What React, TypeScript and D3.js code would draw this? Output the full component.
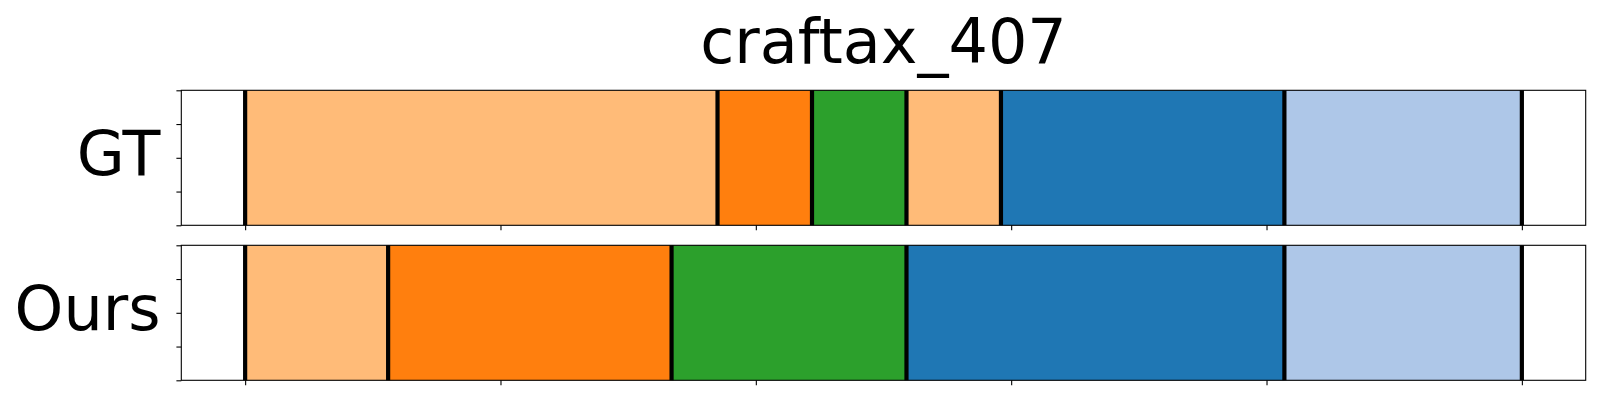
import React, { useEffect, useRef } from 'react';
import * as d3 from 'd3';

const title = 'craftax_407';
const rowLabels = ['GT', 'Ours'];

// segment boundaries (frame index) and the colour of each segment
const gtBounds = [0, 185, 222, 259, 296, 407, 500];
const gtColors = ['#ffbb78', '#ff7f0e', '#2ca02c', '#ffbb78', '#1f77b4', '#aec7e8'];
const oursBounds = [0, 56, 167, 259, 407, 500];
const oursColors = ['#ffbb78', '#ff7f0e', '#2ca02c', '#1f77b4', '#aec7e8'];

const xTicks = [0, 100, 200, 300, 400, 500];
const yTicks = [0, 0.25, 0.5, 0.75, 1];

const W = 1600;
const H = 400;

function App() {
  const node = useRef<SVGSVGElement>(null);

  useEffect(() => {
    const svg = d3.select(node.current);
    svg.selectAll('*').remove();

    const left = 181.3;
    const right = 1585.7;
    const panels = [
      { top: 90.3, bottom: 225.3, bounds: gtBounds, colors: gtColors, label: rowLabels[0] },
      { top: 245.3, bottom: 380.3, bounds: oursBounds, colors: oursColors, label: rowLabels[1] }
    ];

    const x = d3.scaleLinear().domain([-25, 525]).range([left, right]);
    const font = 'DejaVu Sans, sans-serif';

    svg
      .append('text')
      .attr('x', (left + right) / 2)
      .attr('y', 63.3)
      .attr('text-anchor', 'middle')
      .attr('font-family', font)
      .attr('font-size', 62)
      .text(title);

    panels.forEach(p => {
      const y = d3.scaleLinear().domain([0, 1]).range([p.bottom, p.top]);
      const g = svg.append('g');

      const segs = d3.range(p.colors.length).map(i => ({
        x0: p.bounds[i],
        x1: p.bounds[i + 1],
        color: p.colors[i]
      }));

      g.selectAll('rect.seg')
        .data(segs)
        .enter()
        .append('rect')
        .attr('class', 'seg')
        .attr('x', d => x(d.x0))
        .attr('width', d => x(d.x1) - x(d.x0))
        .attr('y', y(1))
        .attr('height', y(0) - y(1))
        .attr('fill', d => d.color);

      g.selectAll('line.bound')
        .data(p.bounds)
        .enter()
        .append('line')
        .attr('class', 'bound')
        .attr('x1', d => x(d))
        .attr('x2', d => x(d))
        .attr('y1', y(0))
        .attr('y2', y(1))
        .attr('stroke', '#000')
        .attr('stroke-width', 4.2);

      g.append('g')
        .attr('transform', 'translate(0,' + p.bottom + ')')
        .call(
          d3
            .axisBottom(x)
            .tickValues(xTicks)
            .tickSizeInner(4.9)
            .tickSizeOuter(0)
            .tickFormat(() => '')
        )
        .call(a => a.select('.domain').remove())
        .selectAll('line')
        .attr('stroke-width', 1.1);

      g.append('g')
        .attr('transform', 'translate(' + left + ',0)')
        .call(
          d3
            .axisLeft(y)
            .tickValues(yTicks)
            .tickSizeInner(4.9)
            .tickSizeOuter(0)
            .tickFormat(() => '')
        )
        .call(a => a.select('.domain').remove())
        .selectAll('line')
        .attr('stroke-width', 1.1);

      g.append('rect')
        .attr('x', left)
        .attr('y', p.top)
        .attr('width', right - left)
        .attr('height', p.bottom - p.top)
        .attr('fill', 'none')
        .attr('stroke', '#000')
        .attr('stroke-width', 1.1);

      g.append('text')
        .attr('x', 160.5)
        .attr('y', (p.top + p.bottom) / 2 + 17.2)
        .attr('text-anchor', 'end')
        .attr('font-family', font)
        .attr('font-size', 62)
        .text(p.label);
    });
  }, []);

  return (
    <svg
      ref={node}
      width={W}
      height={H}
      style={{ position: 'absolute', left: 0, top: 0, background: '#fff' }}
    />
  );
}

export default App;
